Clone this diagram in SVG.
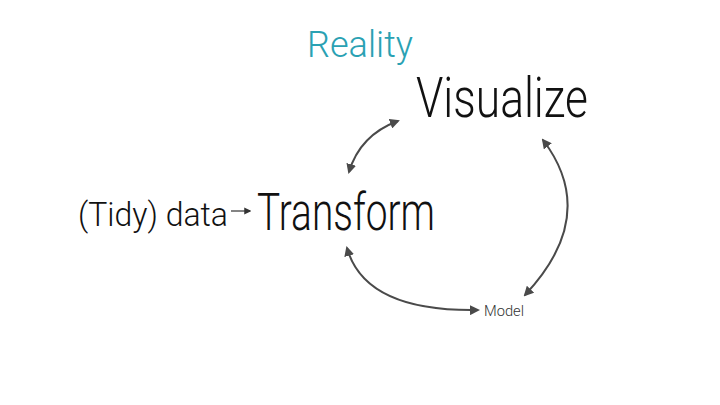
<svg xmlns="http://www.w3.org/2000/svg" width="720" height="405" viewBox="0 0 720 405">
<style>
text{font-family:Roboto,"Liberation Sans",sans-serif;font-weight:300;fill:#111}
.c{fill:none;stroke:#4a4a4a;stroke-width:2}
</style>
<defs>
<marker id="ah" viewBox="0 0 10 10" refX="8" refY="5" markerWidth="5" markerHeight="5" orient="auto-start-reverse" markerUnits="strokeWidth">
<path d="M0,0 L10,5 L0,10 z" fill="#4a4a4a"/>
</marker>
<marker id="ah2" viewBox="0 0 10 10" refX="8" refY="5" markerWidth="6" markerHeight="6" orient="auto" markerUnits="strokeWidth">
<path d="M0,0 L10,5 L0,10 z" fill="#333"/>
</marker>
</defs>
<rect width="720" height="405" fill="#fff"/>
<g id="reality"><text x="307" y="57" font-size="37" textLength="106" lengthAdjust="spacingAndGlyphs" style="fill:#2aa1b3">Reality</text></g>
<g id="visualize"><text x="416" y="117" font-size="55" textLength="172" lengthAdjust="spacingAndGlyphs">Visualize</text></g>
<g id="transform"><text x="257" y="230" font-size="51" textLength="178" lengthAdjust="spacingAndGlyphs">Transform</text></g>
<g id="data"><text x="78" y="226" font-size="33" textLength="150" lengthAdjust="spacingAndGlyphs">(Tidy) data</text></g>
<g id="model"><text x="484" y="316" font-size="14" textLength="40" lengthAdjust="spacingAndGlyphs" style="fill:#333">Model</text></g>
<g id="connectors">
<path d="M231,211 L250,211" stroke="#333" stroke-width="1.2" fill="none" marker-end="url(#ah2)"/>
<path class="c" d="M349,172 Q360,135 398,121" marker-start="url(#ah)" marker-end="url(#ah)"/>
<path class="c" d="M347,248 Q365,312 478,310" marker-start="url(#ah)" marker-end="url(#ah)"/>
<path class="c" d="M543,140 Q600,215 525,295" marker-start="url(#ah)" marker-end="url(#ah)"/>
</g>
</svg>
